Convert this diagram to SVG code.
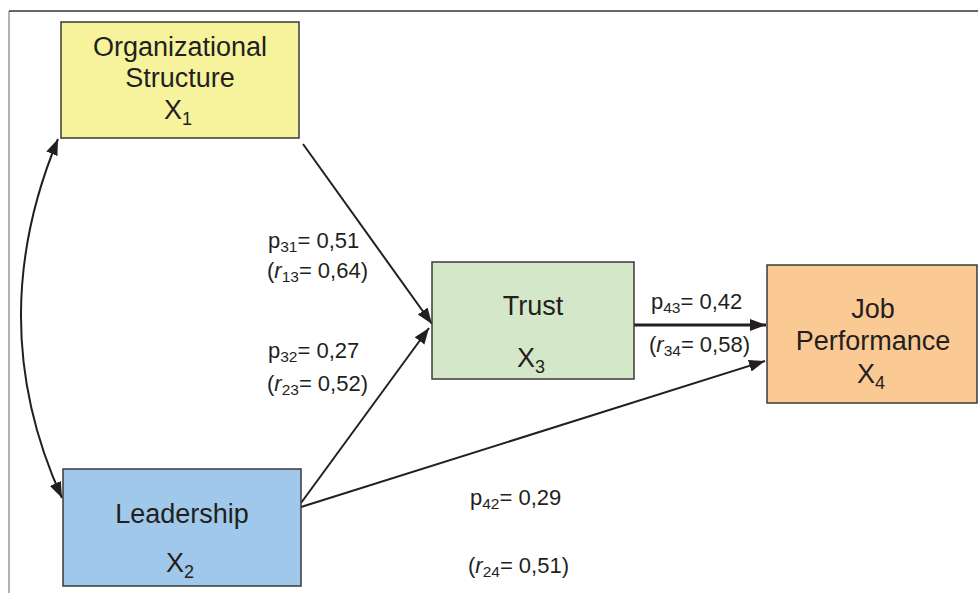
<svg xmlns="http://www.w3.org/2000/svg" width="978" height="593" viewBox="0 0 978 593">
<style>
.box{stroke:#3a3a3a;stroke-width:1.5}
.nt{font-family:"Liberation Sans",Arial,sans-serif;font-size:27px;fill:#231f20;text-anchor:middle}
.ns{font-size:18px}
.lb{font-family:"Liberation Sans",Arial,sans-serif;font-size:22px;fill:#231f20}
.sub{font-size:15.5px}
.c{fill:none;stroke:#231f20;stroke-width:2}
</style>
<defs>
<marker id="ah" markerUnits="userSpaceOnUse" markerWidth="18" markerHeight="14" refX="16" refY="6" orient="auto-start-reverse" viewBox="0 0 18 12">
<path d="M0,0 L16,6 L0,12 Z" fill="#231f20"/>
</marker>
</defs>
<rect width="978" height="593" fill="#fff"/>
<path d="M9,593 L9,11" stroke="#999" stroke-width="1.5" fill="none"/>
<path d="M9,11 L978,11" stroke="#333" stroke-width="1.5" fill="none"/>
<g id="connectors">
<path class="c" d="M58,139 Q-18,322 62,498" marker-start="url(#ah)" marker-end="url(#ah)"/>
<line class="c" x1="303" y1="144" x2="432" y2="324" marker-end="url(#ah)"/>
<line class="c" x1="301" y1="503" x2="429" y2="328" marker-end="url(#ah)"/>
<line class="c" x1="301" y1="507" x2="765" y2="361" marker-end="url(#ah)"/>
<line class="c" style="stroke-width:3" x1="634" y1="325" x2="766" y2="325" marker-end="url(#ah)"/>
</g>
<g id="org">
<rect class="box" x="61" y="22" width="238" height="116" fill="#f7f39c"/>
<text class="nt" x="180" y="56">Organizational</text>
<text class="nt" x="180" y="87">Structure</text>
<text class="nt" x="178" y="119">X<tspan class="ns" dy="6">1</tspan></text>
</g>
<g id="leadership">
<rect class="box" x="63" y="469" width="238" height="117" fill="#a0c8ea"/>
<text class="nt" x="182" y="523">Leadership</text>
<text class="nt" x="180" y="572">X<tspan class="ns" dy="6">2</tspan></text>
</g>
<g id="trust">
<rect class="box" x="432" y="262" width="202" height="117" fill="#d4e7c8"/>
<text class="nt" x="533" y="315">Trust</text>
<text class="nt" x="531" y="367">X<tspan class="ns" dy="6">3</tspan></text>
</g>
<g id="job">
<rect class="box" x="767" y="265" width="210" height="138" fill="#fbc994"/>
<text class="nt" x="873" y="318">Job</text>
<text class="nt" x="873" y="350">Performance</text>
<text class="nt" x="871" y="383">X<tspan class="ns" dy="6">4</tspan></text>
</g>
<g id="labels">
<text class="lb" x="268" y="248">p<tspan class="sub" dy="4">31</tspan><tspan dy="-4">= 0,51</tspan></text>
<text class="lb" x="267" y="278">(<tspan font-style="italic">r</tspan><tspan class="sub" dy="4">13</tspan><tspan dy="-4">= 0,64)</tspan></text>
<text class="lb" x="268" y="358">p<tspan class="sub" dy="4">32</tspan><tspan dy="-4">= 0,27</tspan></text>
<text class="lb" x="267" y="391">(<tspan font-style="italic">r</tspan><tspan class="sub" dy="4">23</tspan><tspan dy="-4">= 0,52)</tspan></text>
<text class="lb" x="651" y="309">p<tspan class="sub" dy="4">43</tspan><tspan dy="-4">= 0,42</tspan></text>
<text class="lb" x="649" y="352">(<tspan font-style="italic">r</tspan><tspan class="sub" dy="4">34</tspan><tspan dy="-4">= 0,58)</tspan></text>
<text class="lb" x="470" y="505">p<tspan class="sub" dy="4">42</tspan><tspan dy="-4">= 0,29</tspan></text>
<text class="lb" x="468" y="573">(<tspan font-style="italic">r</tspan><tspan class="sub" dy="4">24</tspan><tspan dy="-4">= 0,51)</tspan></text>
</g>
</svg>
